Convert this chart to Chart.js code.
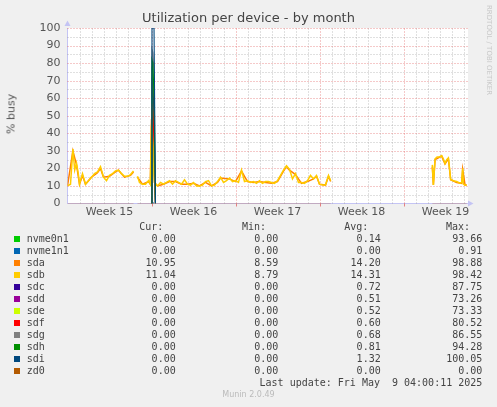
<!DOCTYPE html>
<html>
<head>
<meta charset="utf-8">
<script src="https://cdn.jsdelivr.net/npm/chart.js@4.4.1/dist/chart.umd.min.js"></script>
<style>
body { margin: 0; background: #f0f0f0; width: 497px; height: 407px; overflow: hidden; position: relative; font-family: 'DejaVu Sans', sans-serif; }
#fundo { position: absolute; left: 67.5px; top: 28px; width: 400.5px; height: 175.5px; background: #fff; }
#wrap { position: absolute; left: 0; top: 0; width: 497px; height: 222px; }
.t { position: absolute; white-space: pre; }
#title { left: 0; width: 497px; top: 10px; text-align: center; font-size: 13px; color: #444; }
#ylab { left: 11px; top: 114px; transform: translate(-50%, -50%) rotate(-90deg); font-size: 11px; color: #555; }
#rrd { left: 493px; top: 5px; transform-origin: 0 0; transform: rotate(90deg); font-size: 7px; color: #c8c8c8; }
.leg { font-family: 'DejaVu Sans Mono', monospace; font-size: 10px; line-height: 12px; color: #444; }
.sq { position: absolute; width: 6px; height: 6px; }
#munin { left: 0; width: 497px; text-align: center; top: 390px; font-size: 8px; color: #bbb; }
</style>
</head>
<body>
<div id="fundo"></div>
<div id="wrap"><canvas id="grafico" width="497" height="222"></canvas></div>
<div class="t" id="title">Utilization per device - by month</div>
<div class="t" id="ylab">% busy</div>
<div class="t" id="rrd">RRDTOOL / TOBI OETIKER</div>
<div id="legenda"></div>
<div class="t" id="munin">Munin 2.0.49</div>
<script>
// time axis is in days from the start of week 15
const weekTicks = [3.5, 10.5, 17.5, 24.5, 31.5]
const weekNames = ['Week 15', 'Week 16', 'Week 17', 'Week 18', 'Week 19']
const yLabels = [0, 10, 20, 30, 40, 50, 60, 70, 80, 90, 100]

// periods where the devices reported data
const segments = [[0, 5.5], [5.83, 21.93], [30.4, 33.27]]

const sdbDays = [0, 0.25, 0.45, 0.6, 0.75, 0.9, 1.0, 1.25, 1.5, 1.75, 2.0, 2.25, 2.5, 2.75, 3.0, 3.25, 3.5, 3.75, 4.0, 4.25, 4.5, 4.75, 5.0, 5.25, 5.5, 5.65,
    5.83, 6.0, 6.25, 6.5, 6.75, 6.9, 7.0, 7.1, 7.25, 7.5, 7.75, 8.0, 8.25, 8.5, 8.75, 9.0, 9.25, 9.5, 9.75, 10.0, 10.25, 10.5, 10.75, 11.0, 11.25, 11.5, 11.75,
    12.0, 12.25, 12.5, 12.75, 13.0, 13.25, 13.5, 13.75, 14.0, 14.25, 14.5, 14.75, 15.0, 15.25, 15.5, 15.75, 16.0, 16.25, 16.5, 16.75, 17.0, 17.25, 17.5, 17.75,
    18.0, 18.25, 18.5, 18.75, 19.0, 19.25, 19.5, 19.75, 20.0, 20.25, 20.5, 20.75, 21.0, 21.25, 21.5, 21.75, 21.93, 22.1,
    30.4, 30.49, 30.63, 30.8, 31.0, 31.18, 31.32, 31.46, 31.6, 31.74, 31.82, 31.93, 32.15, 32.43, 32.71, 32.85, 32.93, 32.99, 33.13, 33.27]
const sdb = [10, 11, 31, 19, 23, 17, 11, 17, 11, 13, 15, 17, 18, 21, 15, 13, 16, 17, 18.5, 19, 17, 15.5, 15.5, 16.5, 18.5, null,
    15.5, 12, 11, 11, 13, 11, 45, 38, 12, 10, 12, 11, 12, 13, 11, 13, 12, 11, 13.5, 11, 10.5, 12, 10, 10, 10.5, 12.5, 13,
    10, 10.5, 12.5, 15, 12, 13, 14.5, 12.5, 13, 12, 19, 12.5, 13, 12, 12.5, 11.5, 13, 11.5, 12.5, 12.5, 12, 11.5, 13, 16,
    19, 21.5, 19.5, 14, 17, 12, 12, 11.5, 13, 16, 14, 16, 11, 10.5, 10.5, 16, 13, null,
    22, 10.5, 25.5, 26.5, 26.5, 27.3, 25.5, 22.8, 25, 26, 21, 13.7, 13, 12.5, 11.6, 12, 20, 11, 10.4, 10.5]

const sdaDays = [0, 0.45, 0.75, 1.0, 1.25, 1.5, 2.0, 2.5, 2.75, 3.0, 3.5, 4.0, 4.25, 4.75, 5.25, 5.5, 5.65,
    5.83, 6.25, 6.75, 6.9, 7.0, 7.1, 7.25, 7.5, 8.0, 8.5, 9.0, 9.5, 10.0, 10.5, 11.0, 11.5, 12.0, 12.5, 12.75, 13.5, 14.0, 14.5, 15.0, 15.5,
    16.0, 16.5, 17.0, 17.5, 18.0, 18.25, 18.5, 19.0, 19.5, 20.0, 20.5, 20.75, 21.0, 21.5, 21.75, 21.93, 22.1,
    30.4, 30.49, 30.63, 31.18, 31.46, 31.74, 31.93, 32.43, 32.85, 32.93, 33.13, 33.27]
const sda = [10, 30, 22, 11, 16, 11, 15, 17.5, 20, 15, 15.5, 18, 19, 15, 16, 18, null,
    15, 11, 12.5, 11, 48, 40, 12, 10, 11, 12.5, 12.5, 11, 11, 11.5, 10, 12, 10, 12, 14.5, 14, 12.5, 18.5, 12.5, 12,
    12.5, 12, 11.5, 12.5, 18.5, 21, 19, 16.5, 11.5, 12.5, 14, 15.5, 11, 10.5, 15.5, 12.5, null,
    21, 10.5, 25, 27, 22.5, 25.5, 13.5, 12, 11.5, 19.5, 10.5, 10.5]

// the short burst in week 15 where every disk got busy
const spikeDays = [6.96, 7.04, 7.12, 7.21, 7.33]
const nvme0n1Spike = [0, 78, 60, 20, 0]
const nvme1n1Spike = [0, 1, 0.5, 0, 0]
const sdcSpike = [0, 70, 68, 50, 0]
const sddSpike = [0, 50, 45, 30, 0]
const sdeSpike = [0, 44, 40, 25, 0]
const sdfSpike = [0, 57, 52, 35, 0]
const sdgSpike = [0, 88, 86, 75, 0]
const sdhSpike = [0, 82, 80, 60, 0]
const sdiSpike = [0, 100, 100, 100, 0]

const devices = ['nvme0n1', 'nvme1n1', 'sda', 'sdb', 'sdc', 'sdd', 'sde', 'sdf', 'sdg', 'sdh', 'sdi', 'zd0']
const cores = ['#00cc00', '#0066b3', '#ff8000', '#ffcc00', '#330099', '#990099', '#ccff00', '#ff0000', '#808080', '#008f00', '#00487d', '#b35a00']
const cur = ['0.00', '0.00', '10.95', '11.04', '0.00', '0.00', '0.00', '0.00', '0.00', '0.00', '0.00', '0.00']
const min = ['0.00', '0.00', '8.59', '8.79', '0.00', '0.00', '0.00', '0.00', '0.00', '0.00', '0.00', '0.00']
const avg = ['0.14', '0.00', '14.20', '14.31', '0.72', '0.51', '0.52', '0.60', '0.68', '0.81', '1.32', '0.00']
const max = ['93.66', '0.91', '98.88', '98.42', '87.75', '73.26', '73.33', '80.52', '86.55', '94.28', '100.05', '0.00']

function pares(dias, vals) {
    let pts = []
    for (let i = 0; i < dias.length; i++) {
        pts.push({ x: dias[i], y: vals[i] })
    }
    return pts
}

function linhaZero(spike) {
    let pts = []
    segments.forEach((s, i) => {
        if (i > 0) pts.push({ x: s[0] - 0.1, y: null })
        pts.push({ x: s[0], y: 0 })
        if (spike && s[0] < spikeDays[0] && s[1] > spikeDays[0]) {
            for (let j = 0; j < spikeDays.length; j++) {
                pts.push({ x: spikeDays[j], y: spike[j] })
            }
        }
        pts.push({ x: s[1], y: 0 })
    })
    return pts
}

const dadosSerie = {
    nvme0n1: linhaZero(nvme0n1Spike),
    nvme1n1: linhaZero(nvme1n1Spike),
    sda: pares(sdaDays, sda),
    sdb: pares(sdbDays, sdb),
    sdc: linhaZero(sdcSpike),
    sdd: linhaZero(sddSpike),
    sde: linhaZero(sdeSpike),
    sdf: linhaZero(sdfSpike),
    sdg: linhaZero(sdgSpike),
    sdh: linhaZero(sdhSpike),
    sdi: linhaZero(sdiSpike),
    zd0: linhaZero(null)
}

let datasets = []
for (let i = 0; i < devices.length; i++) {
    const nome = devices[i]
    datasets.push({
        label: nome,
        data: dadosSerie[nome],
        borderColor: cores[i],
        borderWidth: (nome == 'sda' || nome == 'sdb') ? 1.5 : 1.1,
        pointRadius: 0,
        tension: 0,
        spanGaps: false,
        order: devices.length - 1 - i,
        // flat stretches at 0 all overlap on the axis, only the last one (zd0) shows, thin and light
        segment: {
            borderColor: (c) => {
                if (c.p0.parsed.y !== 0 || c.p1.parsed.y !== 0) return undefined
                return nome == 'zd0' ? 'rgba(190, 130, 110, 0.75)' : 'rgba(0,0,0,0)'
            }
        }
    })
}

const vermelho = 'rgba(225, 100, 100, 0.7)'
const cinza = 'rgba(150, 150, 150, 0.6)'

// dotted munin style grid: a line per day and per 5 %, red ones per week and per 10 %
const grade = {
    id: 'grade',
    beforeDatasetsDraw(chart) {
        const ctx = chart.ctx
        const a = chart.chartArea
        const x = chart.scales.x
        const y = chart.scales.y
        ctx.save()
        ctx.lineWidth = 1
        ctx.setLineDash([1, 2])
        for (let d = 1; d <= 33; d++) {
            let px = Math.round(x.getPixelForValue(d)) + 0.5
            ctx.strokeStyle = d % 7 === 0 ? vermelho : cinza
            ctx.beginPath()
            ctx.moveTo(px, a.bottom)
            ctx.lineTo(px, a.top)
            ctx.stroke()
        }
        for (let v = 5; v <= 100; v += 5) {
            let py = Math.round(y.getPixelForValue(v)) + 0.5
            ctx.strokeStyle = v % 10 === 0 ? vermelho : cinza
            ctx.beginPath()
            ctx.moveTo(a.left, py)
            ctx.lineTo(a.right, py)
            ctx.stroke()
        }
        // small week marks under the axis
        ctx.setLineDash([])
        ctx.strokeStyle = 'rgba(225, 100, 100, 0.8)'
        for (let d = 7; d <= 33; d += 7) {
            let px = Math.round(x.getPixelForValue(d)) + 0.5
            ctx.beginPath()
            ctx.moveTo(px, a.bottom)
            ctx.lineTo(px, a.bottom + 3)
            ctx.stroke()
        }
        ctx.restore()
    }
}

const setas = {
    id: 'setas',
    afterDraw(chart) {
        const ctx = chart.ctx
        const a = chart.chartArea
        ctx.save()
        ctx.fillStyle = '#c4c4f4'
        ctx.beginPath()
        ctx.moveTo(a.left - 3, a.top - 2)
        ctx.lineTo(a.left + 3, a.top - 2)
        ctx.lineTo(a.left, a.top - 7.5)
        ctx.fill()
        ctx.beginPath()
        ctx.moveTo(a.right, a.bottom - 3)
        ctx.lineTo(a.right, a.bottom + 3)
        ctx.lineTo(a.right + 5.5, a.bottom)
        ctx.fill()
        ctx.restore()
    }
}

new Chart(document.getElementById('grafico').getContext('2d'), {
    type: 'line',
    data: { datasets: datasets },
    options: {
        responsive: false,
        animation: false,
        layout: { padding: { left: 0, right: 29, top: 28, bottom: 0 } },
        plugins: { legend: { display: false }, tooltip: { enabled: false } },
        scales: {
            x: {
                type: 'linear',
                min: 0,
                max: 33.375,
                afterFit: (s) => { s.height = 18.5 },
                afterBuildTicks: (s) => { s.ticks = weekTicks.map((v) => ({ value: v })) },
                ticks: {
                    autoSkip: false,
                    maxRotation: 0,
                    minRotation: 0,
                    padding: 2,
                    color: '#555',
                    font: { family: 'DejaVu Sans', size: 11 },
                    callback: (v, i) => weekNames[i]
                },
                grid: { display: false, drawTicks: false },
                border: { display: true, color: '#c4c4f4', width: 1 }
            },
            y: {
                min: 0,
                max: 100,
                afterFit: (s) => { s.width = 67.5 },
                afterBuildTicks: (s) => { s.ticks = yLabels.map((v) => ({ value: v })) },
                ticks: {
                    autoSkip: false,
                    padding: 7,
                    color: '#555',
                    font: { family: 'DejaVu Sans', size: 11 },
                    callback: (v) => String(v)
                },
                grid: { display: false, drawTicks: false },
                border: { display: true, color: '#c4c4f4', width: 1 }
            }
        }
    },
    plugins: [grade, setas]
})

// legend table under the chart
const legenda = document.getElementById('legenda')
function texto(txt, direita, centroY, extra) {
    let d = document.createElement('div')
    d.className = 't leg'
    d.textContent = txt
    d.style.top = (centroY - 6) + 'px'
    if (direita !== null) {
        d.style.right = (497 - direita) + 'px'
        d.style.textAlign = 'right'
    }
    if (extra) extra(d)
    legenda.appendChild(d)
}
const colunas = [175.7, 278.3, 380.7, 482.3]
const cabecalho = ['Cur:', 'Min:', 'Avg:', 'Max:']
for (let c = 0; c < 4; c++) {
    texto(cabecalho[c], colunas[c] - 12.3, 227.3)
}
for (let i = 0; i < devices.length; i++) {
    let y = 239.3 + 12 * i
    let sq = document.createElement('div')
    sq.className = 'sq'
    sq.style.left = '14px'
    sq.style.top = (y - 3) + 'px'
    sq.style.background = cores[i]
    legenda.appendChild(sq)
    texto(devices[i], null, y, (d) => { d.style.left = '26.7px' })
    texto(cur[i], colunas[0], y)
    texto(min[i], colunas[1], y)
    texto(avg[i], colunas[2], y)
    texto(max[i], colunas[3], y)
}
texto('Last update: Fri May  9 04:00:11 2025', colunas[3], 383.3)
</script>
</body>
</html>
